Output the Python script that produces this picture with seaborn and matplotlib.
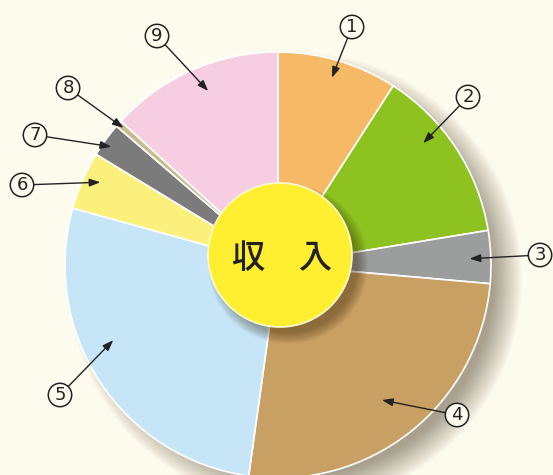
import matplotlib
matplotlib.use("Agg")
import matplotlib.pyplot as plt
import numpy as np
import seaborn as sns
from matplotlib.patches import Circle

# slice data (clockwise from 12 o'clock)
labels = ["1", "2", "3", "4", "5", "6", "7", "8", "9"]
shares = [9.1, 13.3, 4.0, 25.8, 27.1, 4.4, 2.6, 0.5, 13.2]
colors = ["#f6b966", "#8dc220", "#9c9d9d", "#c9a064", "#c6e6f8",
          "#fcf07c", "#7b7b7b", "#c9bc8c", "#f7cde2"]
center_text = "収　入"

# layout: label positions in pixels (origin top-left), arrow tips as
# (fraction across wedge going clockwise, fraction of radius)
label_pos = [(352, 27), (468, 97), (540, 255), (457, 415), (60, 395),
             (22, 185), (35, 135), (68, 88), (157, 36)]
tip_frac = [0.49, 0.36, 0.52, 0.51, 0.59, 0.60, 0.43, 0.5, 0.54]
tip_rad = [0.915, 0.89, 0.90, 0.80, 0.85, 0.92, 0.96, 0.97, 0.88]

W, H = 553, 475
BG = "#fdfbee"
CX, CY, R = 278, H - 265, 213
ICX, ICY, IR = 280, H - 255, 72

sns.set_theme(style="white")
plt.rcParams["font.family"] = ["Noto Sans CJK JP", "DejaVu Sans"]

fig = plt.figure(figsize=(W / 100, H / 100), dpi=100)
fig.patch.set_facecolor(BG)
ax = fig.add_axes([0, 0, 1, 1])
ax.set_facecolor(BG)

# soft drop shadow behind the pie, falling to the lower right
for i in range(30):
    ax.add_patch(Circle((CX + 17, CY - 14), R + 14 - i, color="#3a2a10",
                        alpha=0.016, lw=0, zorder=1))

wedges, _ = ax.pie(shares, colors=colors, startangle=90, counterclock=False,
                   center=(CX, CY), radius=R,
                   wedgeprops=dict(edgecolor="white", linewidth=1.2, zorder=3))

# shadow + hub
for i in range(12):
    ax.add_patch(Circle((ICX + 8, ICY - 9), IR + 8 - i, color="#2a1a00",
                        alpha=0.035, lw=0, zorder=4))
ax.add_patch(Circle((ICX, ICY), IR, facecolor="#ffef30", edgecolor="#fffbd0",
                    lw=1.2, zorder=5))
ax.text(ICX + 2, ICY - 3, center_text, ha="center", va="center", fontsize=24,
        fontweight="medium", color="#222222", zorder=6)

for w, lab, (lx, ly), f, rf in zip(wedges, labels, label_pos, tip_frac, tip_rad):
    ang = np.deg2rad(w.theta2 - f * (w.theta2 - w.theta1))
    tip = (CX + rf * R * np.cos(ang), CY + rf * R * np.sin(ang))
    ax.annotate(lab, xy=tip, xytext=(lx, H - ly), ha="center", va="center",
                fontsize=13, color="#222222", zorder=7,
                family=["Liberation Sans Narrow", "DejaVu Sans"],
                bbox=dict(boxstyle="circle,pad=0.15", fc=BG, ec="#222222", lw=1.1),
                arrowprops=dict(arrowstyle="-|>,head_length=0.5,head_width=0.18",
                                color="#222222", lw=1.0, shrinkA=0, shrinkB=0))

ax.set_xlim(0, W)
ax.set_ylim(0, H)
ax.set_aspect("equal")
ax.axis("off")

fig.savefig("out.png", dpi=100, facecolor=BG)
